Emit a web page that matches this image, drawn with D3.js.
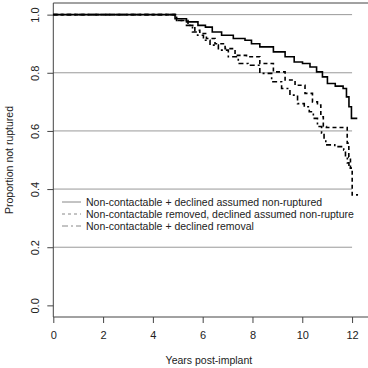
<!DOCTYPE html>
<html>
<head>
<meta charset="utf-8">
<script src="https://cdn.jsdelivr.net/npm/d3@7"></script>
<style>
  body { margin: 0; background: #fff; }
  svg text { font-family: "Liberation Sans", Arial, sans-serif; }
</style>
</head>
<body>
<svg id="chart" width="368" height="368"></svg>
<script>
// survival steps: [years, proportion]
var seriesNames = [
    "Non-contactable + declined assumed non-ruptured",
    "Non-contactable removed, declined assumed non-rupture",
    "Non-contactable + declined removal"
];
var solidCurve = [
    [0, 1.0], [4.69, 1.0], [5.09, 0.986], [5.61, 0.975], [6.01, 0.963], [6.21, 0.957],
    [6.56, 0.940], [6.96, 0.929], [7.50, 0.918], [7.90, 0.912], [8.02, 0.900],
    [8.57, 0.889], [9.11, 0.872], [9.51, 0.855], [9.84, 0.837], [10.18, 0.832],
    [10.44, 0.820], [10.71, 0.803], [10.91, 0.786], [11.11, 0.763], [11.54, 0.754],
    [11.74, 0.746], [11.81, 0.717], [11.94, 0.683], [12.01, 0.643], [12.21, 0.643]
];
var dashedCurve = [
    [0, 1.0], [4.69, 1.0], [5.21, 0.980], [5.61, 0.963], [5.76, 0.946], [6.01, 0.935],
    [6.29, 0.918], [6.70, 0.900], [7.10, 0.883], [7.50, 0.860], [8.02, 0.855],
    [8.57, 0.832], [9.11, 0.803], [9.51, 0.775], [9.91, 0.757], [10.31, 0.729],
    [10.51, 0.700], [10.71, 0.689], [10.78, 0.649], [10.91, 0.615], [11.03, 0.612],
    [11.77, 0.612], [11.84, 0.558], [11.90, 0.510], [11.97, 0.472], [12.04, 0.380],
    [12.24, 0.380]
];
var dotdashCurve = [
    [0, 1.0], [4.69, 1.0], [5.21, 0.980], [5.49, 0.963], [5.69, 0.940], [5.90, 0.929],
    [6.16, 0.912], [6.43, 0.895], [6.83, 0.878], [7.23, 0.855], [7.63, 0.832],
    [8.02, 0.826], [8.57, 0.798], [8.97, 0.769], [9.37, 0.746], [9.64, 0.723],
    [9.98, 0.694], [10.18, 0.683], [10.38, 0.666], [10.51, 0.643], [10.71, 0.615],
    [10.84, 0.592], [10.91, 0.569], [10.98, 0.552], [11.63, 0.546], [11.70, 0.534],
    [11.77, 0.510], [11.85, 0.490], [11.90, 0.472], [12.06, 0.472]
];
var xTicks = [0, 2, 4, 6, 8, 10, 12];
var yTicks = [0.0, 0.2, 0.4, 0.6, 0.8, 1.0];
var gridValues = [0.2, 0.4, 0.6, 0.8, 1.0];

(function () {
    'use strict';
    var svg = d3.select("#chart");
    var mLeft = 53.3, mRight = 368.5, mTop = 3, mBottom = 317;

    var x = d3.scaleLinear().domain([0, 12.66]).range([mLeft, mRight]);
    var y = d3.scaleLinear().domain([-0.04, 1.04]).range([mBottom, mTop]);

    // horizontal reference lines, drawn only over the follow-up span
    svg.append("g").selectAll("line")
        .data(gridValues)
        .enter().append("line")
        .attr("x1", x(0)).attr("x2", x(12))
        .attr("y1", function (d) { return y(d); })
        .attr("y2", function (d) { return y(d); })
        .attr("stroke", "#999").attr("stroke-width", 1);

    // frame (right side falls outside the window)
    svg.append("path")
        .attr("d", "M" + (mRight + 2) + "," + mTop + "H" + mLeft + "V" + mBottom + "H" + (mRight + 2))
        .attr("fill", "none").attr("stroke", "#444").attr("stroke-width", 1);

    var xAxis = svg.append("g")
        .attr("transform", "translate(0," + mBottom + ")")
        .call(d3.axisBottom(x).tickValues(xTicks).tickSize(6).tickPadding(8).tickFormat(d3.format("d")));
    xAxis.select(".domain").remove();
    xAxis.selectAll("line").attr("stroke", "#444");
    xAxis.selectAll("text").style("font-size", "11px").style("fill", "#222");

    var yAxis = svg.append("g")
        .attr("transform", "translate(" + mLeft + ",0)")
        .call(d3.axisLeft(y).tickValues(yTicks).tickSize(6).tickFormat(d3.format(".1f")));
    yAxis.select(".domain").remove();
    yAxis.selectAll("line").attr("stroke", "#444");
    yAxis.selectAll("text")
        .style("font-size", "11px").style("fill", "#222")
        .attr("text-anchor", "middle")
        .attr("x", 0).attr("dy", 0)
        .attr("transform", "translate(-14,0) rotate(-90)");

    svg.append("text")
        .attr("x", (mLeft + mRight) / 2 - 2).attr("y", 364)
        .attr("text-anchor", "middle")
        .style("font-size", "10.5px").style("fill", "#222")
        .text("Years post-implant");

    svg.append("text")
        .attr("transform", "translate(13," + ((mTop + mBottom) / 2) + ") rotate(-90)")
        .attr("text-anchor", "middle")
        .style("font-size", "10.5px").style("fill", "#222")
        .text("Proportion not ruptured");

    var line = d3.line()
        .x(function (d) { return x(d[0]); })
        .y(function (d) { return y(d[1]); })
        .curve(d3.curveStep);

    var curves = [
        { data: dotdashCurve, dash: "5,3,2,3" },
        { data: dashedCurve, dash: "4,3" },
        { data: solidCurve, dash: null }
    ];
    svg.append("g").selectAll("path")
        .data(curves)
        .enter().append("path")
        .attr("d", function (d) { return line(d.data); })
        .attr("fill", "none")
        .attr("stroke", "#000")
        .attr("stroke-width", 1.6)
        .attr("stroke-dasharray", function (d) { return d.dash; });

    // legend
    var legendDash = [null, "3,3", "6,3,2,3"];
    var legend = svg.append("g").selectAll("g")
        .data(seriesNames)
        .enter().append("g")
        .attr("transform", function (d, i) { return "translate(0," + (202 + i * 12) + ")"; });
    legend.append("line")
        .attr("x1", 62).attr("x2", 81)
        .attr("stroke", "#888").attr("stroke-width", 1)
        .attr("stroke-dasharray", function (d, i) { return legendDash[i]; });
    legend.append("text")
        .attr("x", 86).attr("y", 4)
        .style("font-size", "10.5px").style("fill", "#222")
        .text(function (d) { return d; });
})();
</script>
</body>
</html>
